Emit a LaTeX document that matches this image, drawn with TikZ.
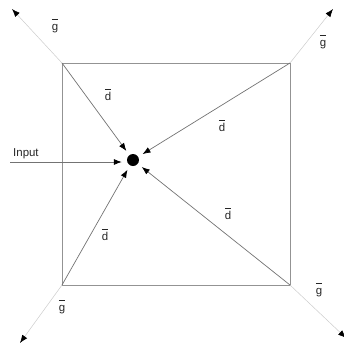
\documentclass[tikz,border=0pt]{standalone}
\usepackage{fontspec}
\setmainfont{Liberation Sans}
\usetikzlibrary{positioning, arrows.meta}

\tikzset{
  box/.style={draw=gray!85, line width=0.7bp},
  dvec/.style={draw=gray!90!black, line width=0.7bp, -{Latex[length=8bp, width=6bp, color=black]}, shorten >=5bp},
  gvec/.style={draw=gray!40, line width=0.5bp, -{Latex[length=8bp, width=6bp, color=black]}},
  lbl/.style={font=\fontsize{11.5}{13}\selectfont, inner sep=1bp, text=black!85},
}
\newcommand{\vecbar}[1]{$\overline{\rule{0pt}{9.8bp}\mbox{#1}}$}

\begin{document}
\begin{tikzpicture}[x=1bp, y=-1bp]
\useasboundingbox (0,0) rectangle (344,345);

% Square
\coordinate (tl) at (62,63);
\coordinate (tr) at (290,63);
\coordinate (bl) at (62,285);
\coordinate (br) at (290,285);
\draw[box] (tl) rectangle (br);

% Centre dot
\node[circle, fill=black, minimum size=12bp, inner sep=0pt] (c) at (133,160) {};

% d vectors
\foreach \p in {tl,tr,bl,br} {
    \draw[dvec] (\p) -- (c);
}
\node[lbl] (d1) at (108,95) {\vecbar{d}};
\node[lbl] (d2) at (222,126) {\vecbar{d}};
\node[lbl] (d3) at (105,235) {\vecbar{d}};
\node[lbl] (d4) at (228,214) {\vecbar{d}};

% Input
\coordinate (in) at (10,162);
\node[lbl, anchor=base west] (inlbl) at (12,156) {Input};
\draw[dvec] (in) -- (c.west |- in);

% g vectors
\coordinate (g1) at (12,9);
\coordinate (g2) at (333,9);
\coordinate (g3) at (20,343);
\coordinate (g4) at (346,338);
\draw[gvec] (tl) -- (g1);
\draw[gvec] (tr) -- (g2);
\draw[gvec] (bl) -- (g3);
\draw[gvec] (br) -- (g4);
\node[lbl] (gl1) at (55,26) {\vecbar{g}};
\node[lbl] (gl2) at (323,42) {\vecbar{g}};
\node[lbl] (gl3) at (62,307) {\vecbar{g}};
\node[lbl] (gl4) at (319,290) {\vecbar{g}};

\end{tikzpicture}
\end{document}
